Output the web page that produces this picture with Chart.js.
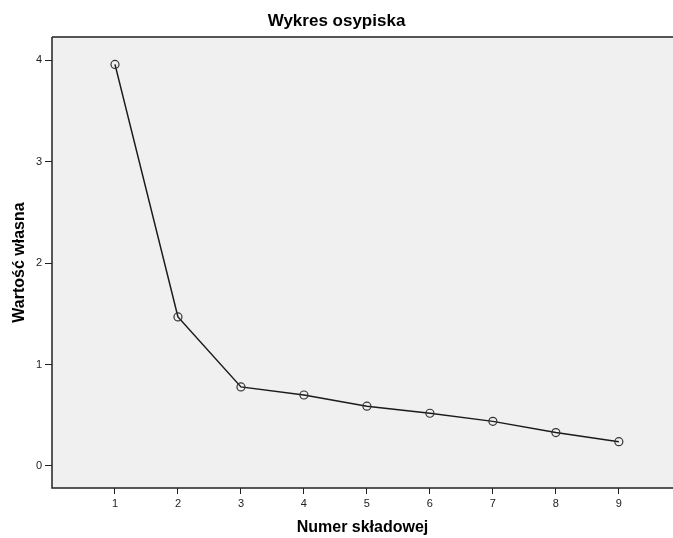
<!DOCTYPE html>
<html>
<head>
<meta charset="utf-8">
<script src="https://cdn.jsdelivr.net/npm/chart.js@4/dist/chart.umd.min.js"></script>
<style>
html,body{margin:0;padding:0;background:#fff;}
canvas{display:block;}
</style>
</head>
<body>
<canvas id="c" width="673" height="538"></canvas>
<script>
const components = [1, 2, 3, 4, 5, 6, 7, 8, 9];
const eigenvalues = [3.96, 1.47, 0.78, 0.70, 0.59, 0.52, 0.44, 0.33, 0.24];
const yTicks = [0, 1, 2, 3, 4];
const chartTitle = 'Wykres osypiska';
const xTitle = 'Numer składowej';
const yTitle = 'Wartość własna';

const FONT = "'Liberation Sans', Arial, sans-serif";

const areaPlugin = {
  id: 'areaPlugin',
  beforeDatasetsDraw(chart) {
    const {ctx, chartArea: a} = chart;
    ctx.save();
    ctx.fillStyle = '#f0f0f0';
    ctx.fillRect(a.left, a.top, a.right - a.left, a.bottom - a.top);
    ctx.strokeStyle = '#555';
    ctx.lineWidth = 2;
    ctx.beginPath();
    ctx.moveTo(a.left, a.top);
    ctx.lineTo(a.right, a.top);
    ctx.stroke();
    ctx.strokeStyle = '#222';
    ctx.lineWidth = 1.5;
    ctx.beginPath();
    ctx.moveTo(a.left, a.top);
    ctx.lineTo(a.left, a.bottom);
    ctx.lineTo(a.right, a.bottom);
    ctx.stroke();
    ctx.restore();
  }
};

new Chart(document.getElementById('c'), {
  type: 'line',
  data: {
    datasets: [{
      data: components.map((c, i) => ({x: c, y: eigenvalues[i]})),
      borderColor: '#1a1a1a',
      borderWidth: 1.5,
      pointRadius: 4,
      pointBackgroundColor: 'rgba(0,0,0,0)',
      pointBorderColor: '#333',
      pointBorderWidth: 1.2,
      tension: 0,
      clip: false
    }]
  },
  options: {
    responsive: false,
    animation: false,
    devicePixelRatio: 1,
    layout: {padding: 0, autoPadding: false},
    plugins: {
      legend: {display: false},
      tooltip: {enabled: false},
      title: {
        display: true,
        text: chartTitle,
        color: '#000',
        font: {family: FONT, size: 17, weight: 'bold'},
        padding: {top: 11, bottom: 5.6}
      }
    },
    scales: {
      x: {
        type: 'linear',
        min: 0,
        max: 9.86,
        afterBuildTicks: s => { s.ticks = components.map(v => ({value: v})); },
        afterFit: s => { s.height = 50; },
        grid: {drawOnChartArea: false, drawTicks: true, tickLength: 6, tickColor: '#222', color: '#222'},
        border: {display: false},
        ticks: {color: '#222', font: {family: FONT, size: 11}, padding: 3, maxRotation: 0},
        title: {display: true, text: xTitle, color: '#000', font: {family: FONT, size: 16, weight: 'bold'}, padding: {top: 0, bottom: 1}}
      },
      y: {
        min: -0.217,
        max: 4.23,
        afterBuildTicks: s => { s.ticks = yTicks.map(v => ({value: v})); },
        afterFit: s => { s.width = 52; },
        grid: {drawOnChartArea: false, drawTicks: true, tickLength: 7, tickColor: '#222', color: '#222'},
        border: {display: false},
        ticks: {color: '#222', font: {family: FONT, size: 11}, padding: 3},
        title: {display: true, text: yTitle, color: '#000', font: {family: FONT, size: 16, weight: 'bold'}, padding: {top: 10, bottom: 0}}
      }
    }
  },
  plugins: [areaPlugin]
});
</script>
</body>
</html>
